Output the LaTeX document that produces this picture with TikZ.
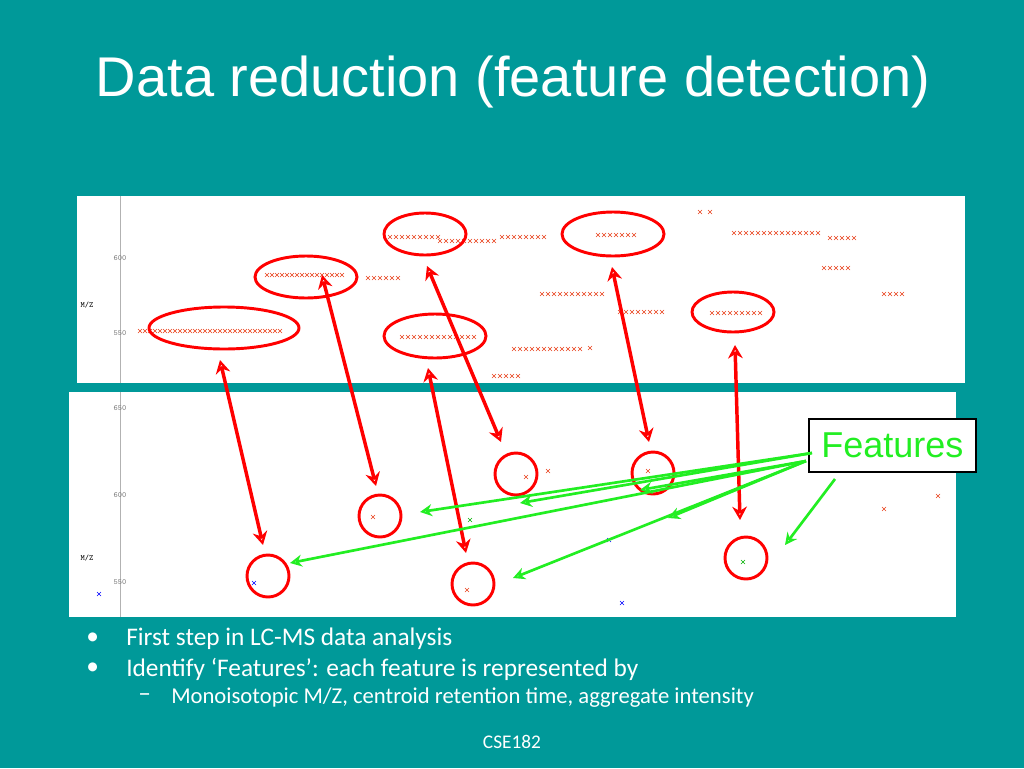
\documentclass[tikz,border=0pt]{standalone}
\usepackage{fontspec}
\setmainfont{Carlito}
\newfontfamily\titlefont{Liberation Sans}
\usetikzlibrary{arrows.meta}
\definecolor{slidebg}{HTML}{009999}
\definecolor{featgreen}{HTML}{22EE22}
\definecolor{peakred}{HTML}{E8401A}

% one row of peak marks
\newcommand{\peakrow}[3][peakred]{%
  \foreach \px in {#2}{%
    \draw[#1, line width=0.5pt] (\px-2,#3-2) -- (\px+2,#3+2) (\px-2,#3+2) -- (\px+2,#3-2);}}
\newcommand{\peak}[3][peakred]{%
  \draw[#1, line width=0.4pt] (#2-2,#3-2) -- (#2+2,#3+2) (#2-2,#3+2) -- (#2+2,#3-2);}

\begin{document}
\begin{tikzpicture}[x=0.75pt, y=-0.75pt,
  feature/.style={draw=red, line width=2.2pt},
  link/.style={draw=red, line width=2.6pt, {Stealth[open,length=10pt,width=11pt]}-{Stealth[open,length=10pt,width=11pt]}},
  point/.style={draw=featgreen, line width=2pt, -{Stealth[open,length=9pt,width=9pt]}},
  axislbl/.style={font=\ttfamily\fontsize{6}{6}\selectfont, text=gray},
  bullet/.style={anchor=west, inner sep=0pt, text=white, font=\fontsize{19}{22}\selectfont}]

\fill[slidebg] (0,0) rectangle (1024,768);
\useasboundingbox (0,0) rectangle (1024,768);

\node[font=\titlefont\fontsize{42}{46}\selectfont, text=white] (title) at (513,82) {Data reduction (feature detection)};

% upper panel
\fill[white] (77,196) rectangle (965,383);
\draw[gray!60] (120,196) -- (120,383);
\node[axislbl] (u600) at (120,258) {600};
\node[axislbl] (u550) at (120,333) {550};
\node[axislbl, text=black] (umz) at (87,305) {M/Z};

\peakrow{140,145,...,280}{331}
\peakrow{267,272,...,345}{275}
\peakrow{368,374,...,400}{278}
\peakrow{390,396,...,438}{237}
\peakrow{440,446,...,498}{241}
\peakrow{502,508,...,544}{237}
\peakrow{402,408,...,478}{337}
\peakrow{514,520,...,580}{349}
\peak{590}{348}
\peakrow{494,500,...,518}{376}
\peakrow{542,548,...,602}{294}
\peakrow{598,604,...,636}{235}
\peakrow{620,626,...,662}{312}
\peakrow{700,710}{212}
\peakrow{734,740,...,818}{233}
\peakrow{830,836,...,856}{238}
\peakrow{824,830,...,852}{268}
\peakrow{884,890,...,902}{294}
\peakrow{712,718,...,760}{313}

% lower panel
\fill[white] (69,392) rectangle (956,617);
\draw[gray!60] (120,392) -- (120,617);
\node[axislbl] (l650) at (120,408) {650};
\node[axislbl] (l600) at (120,495) {600};
\node[axislbl] (l550) at (120,582) {550};
\node[axislbl, text=black] (lmz) at (87,558) {M/Z};

\peak{526}{477} \peak{548}{471} \peak{648}{471} \peak{373}{517}
\peak[green!70!black]{470}{520} \peak[blue]{609}{540} \peak[green!70!black]{743}{562}
\peak{884}{509} \peak{938}{496} \peak{467}{590} \peak[blue]{254}{583}
\peak[blue]{99}{594} \peak[blue]{622}{603}

% features in the map
\draw[feature] (224,328) ellipse [x radius=75, y radius=21] node (e1) {};
\draw[feature] (306,277) ellipse [x radius=51, y radius=21] node (e2) {};
\draw[feature] (425,234) ellipse [x radius=41, y radius=21] node (e3) {};
\draw[feature] (613,234) ellipse [x radius=51, y radius=22] node (e4) {};
\draw[feature] (435,336) ellipse [x radius=51, y radius=22] node (e5) {};
\draw[feature] (733,312) ellipse [x radius=41, y radius=20] node (e6) {};

\draw[feature] (268,576) circle (21) node (c1) {};
\draw[feature] (380,516) circle (21) node (c2) {};
\draw[feature] (473,584) circle (21) node (c3) {};
\draw[feature] (516,474) circle (21) node (c4) {};
\draw[feature] (653,473) circle (21) node (c5) {};
\draw[feature] (746,558) circle (21) node (c6) {};

\coordinate (e1b) at (220,360); \coordinate (c1t) at (263,545);
\coordinate (e2b) at (322,275); \coordinate (c2t) at (376,486);
\coordinate (e3b) at (427,266); \coordinate (c4t) at (501,442);
\coordinate (e5b) at (428,368); \coordinate (c3t) at (466,553);
\coordinate (e4b) at (612,267); \coordinate (c5t) at (649,442);
\coordinate (e6b) at (735,345); \coordinate (c6t) at (740,520);
\draw[link] (e1b) -- (c1t);
\draw[link] (e2b) -- (c2t);
\draw[link] (e3b) -- (c4t);
\draw[link] (e5b) -- (c3t);
\draw[link] (e4b) -- (c5t);
\draw[link] (e6b) -- (c6t);

% label box
\node[draw=black, line width=1.5pt, fill=white, minimum width=125pt, minimum height=40pt, inner sep=0pt,
  text=featgreen, font=\titlefont\fontsize{27}{27}\selectfont, anchor=north west] (feat) at (808,418) {Features};

\coordinate (f1) at (812,453);
\coordinate (f2) at (806,461);
\coordinate (f3) at (835,479);
\draw[point] (f1) -- (420,512);
\draw[point] (f1) -- (520,503);
\draw[point] (f2) -- (640,490);
\draw[point] (f2) -- (290,563);
\draw[point] (f2) -- (513,578);
\draw[point] (f2) -- (668,518);
\draw[point] (f3) -- (785,545);

% text
\node[bullet] (b1) at (126,639) {First step in LC-MS data analysis};
\node[bullet] (b2) at (126,669) {Identify ‘Features’: each feature is represented by};
\node[bullet] (m1) at (86,639) {•};
\node[bullet] (m2) at (86,669) {•};
\node[bullet] (d1) at (138,698) {–};
\node[bullet, font=\fontsize{17}{20}\selectfont] (b3) at (171,698) {Monoisotopic M/Z, centroid retention time, aggregate intensity};
\node[font=\fontsize{14.5}{17}\selectfont, text=white] (foot) at (512,742) {CSE182};
\end{tikzpicture}
\end{document}
